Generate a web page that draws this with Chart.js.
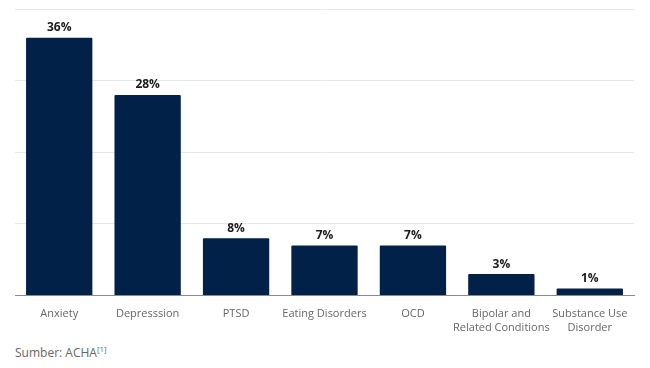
<!DOCTYPE html>
<html>
<head>
<meta charset="utf-8">
<script src="https://cdn.jsdelivr.net/npm/chart.js@4"></script>
<style>
  html, body { margin: 0; padding: 0; background: #fff; }
  #wrap { position: relative; width: 650px; height: 368px; }
  #box { position: absolute; left: 0; top: 0; width: 650px; height: 338px; }
  #source { position: absolute; left: 15px; top: 343px; font: 12px "Open Sans", sans-serif; color: #666; }
  #source sup { font-size: 8px; }
</style>
</head>
<body>
<div id="wrap">
  <div id="box"><canvas id="chart"></canvas></div>
  <div id="source">Sumber: ACHA<sup>[1]</sup></div>
</div>
<script>
// Gangguan kesehatan mental (persen)
const categories = ['Anxiety', 'Depresssion', 'PTSD', 'Eating Disorders', 'OCD', ['Bipolar and', 'Related Conditions'], ['Substance Use', 'Disorder']];
const values = [36, 28, 8, 7, 7, 3, 1];
const yTicks = [0, 10, 20, 30, 40];

// value labels on top of each bar
const barLabels = {
  id: 'barLabels',
  afterDatasetsDraw(chart) {
    const ctx = chart.ctx;
    const meta = chart.getDatasetMeta(0);
    ctx.save();
    ctx.font = 'bold 12px "Open Sans", sans-serif';
    ctx.fillStyle = '#1a1a1a';
    ctx.textAlign = 'center';
    ctx.textBaseline = 'bottom';
    meta.data.forEach((bar, i) => {
      ctx.fillText(values[i] + '%', bar.x, bar.y - 4);
    });
    ctx.restore();
  }
};

new Chart(document.getElementById('chart'), {
  type: 'bar',
  data: {
    labels: categories,
    datasets: [{
      data: values,
      backgroundColor: '#022149',
      borderRadius: 1,
      categoryPercentage: 0.75,
      barPercentage: 1
    }]
  },
  options: {
    responsive: true,
    maintainAspectRatio: false,
    animation: false,
    layout: { padding: { left: 15, right: 16, top: 9, bottom: 0 } },
    plugins: { legend: { display: false }, tooltip: { enabled: false } },
    scales: {
      x: {
        grid: { display: false },
        border: { color: '#8a8a8a', width: 1 },
        ticks: { color: '#666', font: { family: '"Open Sans", sans-serif', size: 11, lineHeight: 1.2 }, maxRotation: 0, autoSkip: false, padding: 4 }
      },
      y: {
        min: 0, max: 40,
        afterBuildTicks(axis) { axis.ticks = yTicks.map(v => ({ value: v })); },
        ticks: { display: false },
        grid: { color: '#e8e8e8', drawTicks: false },
        border: { display: false }
      }
    }
  },
  plugins: [barLabels]
});
</script>
</body>
</html>
